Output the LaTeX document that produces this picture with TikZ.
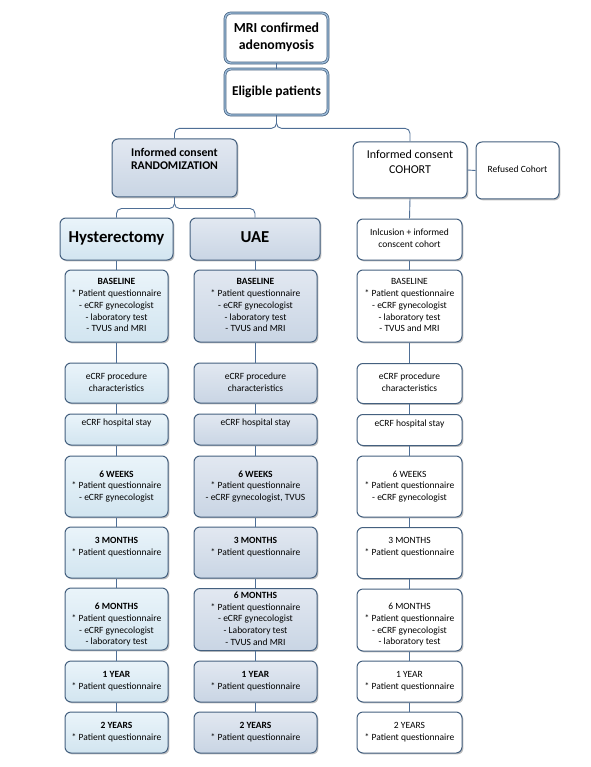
\documentclass[tikz,border=0pt]{standalone}
\usepackage{fontspec}
\setmainfont{Carlito}
\usetikzlibrary{shadows}
\definecolor{bordc}{HTML}{44607F}
\definecolor{connc}{HTML}{4F6F96}
\definecolor{dblc}{HTML}{9DBBD8}
\definecolor{hyTop}{HTML}{EAF4FA}
\definecolor{hyBot}{HTML}{D2E5F0}
\definecolor{uaTop}{HTML}{E2E8F1}
\definecolor{uaBot}{HTML}{C9D5E4}
\newcommand\bodyf{\fontsize{9.5}{11.7}\selectfont}
\newcommand\tb[2]{\raisebox{#1}[\height][\depth]{\begin{tabular}{@{}c@{}}#2\end{tabular}}}
\tikzset{
  basebox/.style={rounded corners=6pt, draw=bordc, line width=1pt, inner sep=0pt,
    drop shadow={shadow xshift=1.4pt, shadow yshift=-1.4pt, opacity=0.35, fill=black!70},
    font=\bodyf},
  hbox/.style={basebox, top color=hyTop, bottom color=hyBot},
  ubox/.style={basebox, top color=uaTop, bottom color=uaBot},
  cbox/.style={basebox, fill=white},
  dbox/.style={rounded corners=6pt, draw=bordc, line width=0.7pt, double=dblc,
    double distance=1.4pt, fill=white, inner sep=0pt,
    drop shadow={shadow xshift=1.2pt, shadow yshift=-1.2pt, opacity=0.3, fill=black!70}},
  conn/.style={draw=connc, line width=0.9pt},
  colH/.style={minimum width=103pt},
  colU/.style={minimum width=123pt},
  colC/.style={minimum width=105pt},
}
\begin{document}
\begin{tikzpicture}[x=1pt,y=-1pt]
\useasboundingbox (0,0) rectangle (590,767);

% top
\node[dbox, minimum width=103pt, minimum height=50pt, font=\fontsize{13.8}{16.7}\selectfont\bfseries]
  (mri) at (276.5,38) {\tb{0pt}{MRI confirmed\\adenomyosis}};
\node[dbox, minimum width=103pt, minimum height=46pt, font=\fontsize{13.5}{16}\selectfont\bfseries]
  (elig) at (276.5,92) {\tb{0pt}{Eligible patients}};
\node[ubox, minimum width=125pt, minimum height=58pt, font=\fontsize{11.8}{13.3}\selectfont\bfseries]
  (rand) at (174.5,168) {\tb{8pt}{Informed consent\\RANDOMIZATION}};
\node[cbox, minimum width=114pt, minimum height=56pt, font=\fontsize{12}{14.3}\selectfont]
  (coh) at (410,170) {\tb{7pt}{Informed consent\\COHORT}};
\node[cbox, minimum width=83pt, minimum height=57pt]
  (ref) at (517.5,170.5) {\tb{0pt}{Refused Cohort}};

\node[hbox, minimum width=113pt, minimum height=42pt, font=\fontsize{16.7}{19}\selectfont\bfseries]
  (hyst) at (116.5,239) {\tb{0pt}{Hysterectomy}};
\node[ubox, minimum width=130pt, minimum height=42pt, font=\fontsize{16.7}{19}\selectfont\bfseries]
  (uae) at (255,239) {\tb{0pt}{UAE}};
\node[cbox, colC, minimum height=41pt]
  (incl) at (409.5,239.5) {\tb{0pt}{Inlcusion + informed\\conscent cohort}};

% Hysterectomy column
\node[hbox, colH, minimum height=72pt] (hbase) at (116.5,306)
  {\tb{0pt}{\textbf{BASELINE}\\{}* Patient questionnaire\\- eCRF gynecologist\\- laboratory test\\- TVUS and MRI}};
\node[hbox, colH, minimum height=40pt] (hproc) at (116.5,383)
  {\tb{0pt}{eCRF procedure\\characteristics}};
\node[hbox, colH, minimum height=31pt] (hhosp) at (116.5,429.5)
  {\tb{6pt}{eCRF hospital stay}};
\node[hbox, colH, minimum height=61pt] (hwk) at (116.5,486.5)
  {\tb{0pt}{\textbf{6 WEEKS}\\{}* Patient questionnaire\\- eCRF gynecologist}};
\node[hbox, colH, minimum height=51pt] (hm3) at (116.5,552.5)
  {\tb{5.5pt}{\textbf{3 MONTHS}\\{}* Patient questionnaire}};
\node[hbox, colH, minimum height=62pt] (hm6) at (116.5,619)
  {\tb{-6pt}{\textbf{6 MONTHS}\\{}* Patient questionnaire\\- eCRF gynecologist\\- laboratory test}};
\node[hbox, colH, minimum height=41pt] (hy1) at (116.5,681.5)
  {\tb{0pt}{\textbf{1 YEAR}\\{}* Patient questionnaire}};
\node[hbox, colH, minimum height=41pt] (hy2) at (116.5,732.5)
  {\tb{0pt}{\textbf{2 YEARS}\\{}* Patient questionnaire}};

% UAE column
\node[ubox, colU, minimum height=72pt] (ubase) at (255.5,306)
  {\tb{0pt}{\textbf{BASELINE}\\{}* Patient questionnaire\\- eCRF gynecologist\\- laboratory test\\- TVUS and MRI}};
\node[ubox, colU, minimum height=40pt] (uproc) at (255.5,383)
  {\tb{0pt}{eCRF procedure\\characteristics}};
\node[ubox, colU, minimum height=31pt] (uhosp) at (255.5,429.5)
  {\tb{6pt}{eCRF hospital stay}};
\node[ubox, colU, minimum height=61pt] (uwk) at (255.5,486.5)
  {\tb{0pt}{\textbf{6 WEEKS}\\{}* Patient questionnaire\\- eCRF gynecologist, TVUS}};
\node[ubox, colU, minimum height=51pt] (um3) at (255.5,552.5)
  {\tb{5.5pt}{\textbf{3 MONTHS}\\{}* Patient questionnaire}};
\node[ubox, colU, minimum height=62pt] (um6) at (255.5,619.5)
  {\tb{0pt}{\textbf{6 MONTHS}\\{}* Patient questionnaire\\- eCRF gynecologist\\- Laboratory test\\- TVUS and MRI}};
\node[ubox, colU, minimum height=41pt] (uy1) at (255.5,681.5)
  {\tb{0pt}{\textbf{1 YEAR}\\{}* Patient questionnaire}};
\node[ubox, colU, minimum height=41pt] (uy2) at (255.5,732.5)
  {\tb{0pt}{\textbf{2 YEARS}\\{}* Patient questionnaire}};

% Cohort column
\node[cbox, colC, minimum height=72pt] (cbase) at (409.5,306)
  {\tb{0pt}{BASELINE\\{}* Patient questionnaire\\- eCRF gynecologist\\- laboratory test\\- TVUS and MRI}};
\node[cbox, colC, minimum height=40pt] (cproc) at (409.5,383.5)
  {\tb{0pt}{eCRF procedure\\characteristics}};
\node[cbox, colC, minimum height=31pt] (chosp) at (409.5,430)
  {\tb{6pt}{eCRF hospital stay}};
\node[cbox, colC, minimum height=61pt] (cwk) at (409.5,486.5)
  {\tb{0pt}{6 WEEKS\\{}* Patient questionnaire\\- eCRF gynecologist}};
\node[cbox, colC, minimum height=51pt] (cm3) at (409.5,553)
  {\tb{6pt}{3 MONTHS\\{}* Patient questionnaire}};
\node[cbox, colC, minimum height=62pt] (cm6) at (409.5,620)
  {\tb{-5pt}{6 MONTHS\\{}* Patient questionnaire\\- eCRF gynecologist\\- laboratory test}};
\node[cbox, colC, minimum height=41pt] (cy1) at (409.5,681.5)
  {\tb{0pt}{1 YEAR\\{}* Patient questionnaire}};
\node[cbox, colC, minimum height=41pt] (cy2) at (409.5,732.5)
  {\tb{0pt}{2 YEARS\\{}* Patient questionnaire}};

% connectors
\draw[conn] (mri.south) -- (elig.north);
\draw[conn, rounded corners=5pt] (elig.south) -- ++(0,13) -| (rand.north);
\draw[conn, rounded corners=5pt] (elig.south) -- ++(0,13) -| (coh.north);
\draw[conn, rounded corners=5pt] (rand.south) -- ++(0,11) -| (hyst.north);
\draw[conn, rounded corners=5pt] (rand.south) -- ++(0,11) -| (uae.north);
\draw[conn] (coh.east) -- (ref.west);
\draw[conn] (coh.south) -- (incl.north);

\draw[conn] (hyst.south) -- (hbase.north);
\draw[conn] (hbase.south) -- (hproc.north);
\draw[conn] (hproc.south) -- (hhosp.north);
\draw[conn] (hhosp.south) -- (hwk.north);
\draw[conn] (hwk.south) -- (hm3.north);
\draw[conn] (hm3.south) -- (hm6.north);
\draw[conn] (hm6.south) -- (hy1.north);
\draw[conn] (hy1.south) -- (hy2.north);

\draw[conn] (uae.south -| ubase.north) -- (ubase.north);
\draw[conn] (ubase.south) -- (uproc.north);
\draw[conn] (uproc.south) -- (uhosp.north);
\draw[conn] (uhosp.south) -- (uwk.north);
\draw[conn] (uwk.south) -- (um3.north);
\draw[conn] (um3.south) -- (um6.north);
\draw[conn] (um6.south) -- (uy1.north);
\draw[conn] (uy1.south) -- (uy2.north);

\draw[conn] (incl.south) -- (cbase.north);
\draw[conn] (cbase.south) -- (cproc.north);
\draw[conn] (cproc.south) -- (chosp.north);
\draw[conn] (chosp.south) -- (cwk.north);
\draw[conn] (cwk.south) -- (cm3.north);
\draw[conn] (cm3.south) -- (cm6.north);
\draw[conn] (cm6.south) -- (cy1.north);
\draw[conn] (cy1.south) -- (cy2.north);
\end{tikzpicture}
\end{document}
